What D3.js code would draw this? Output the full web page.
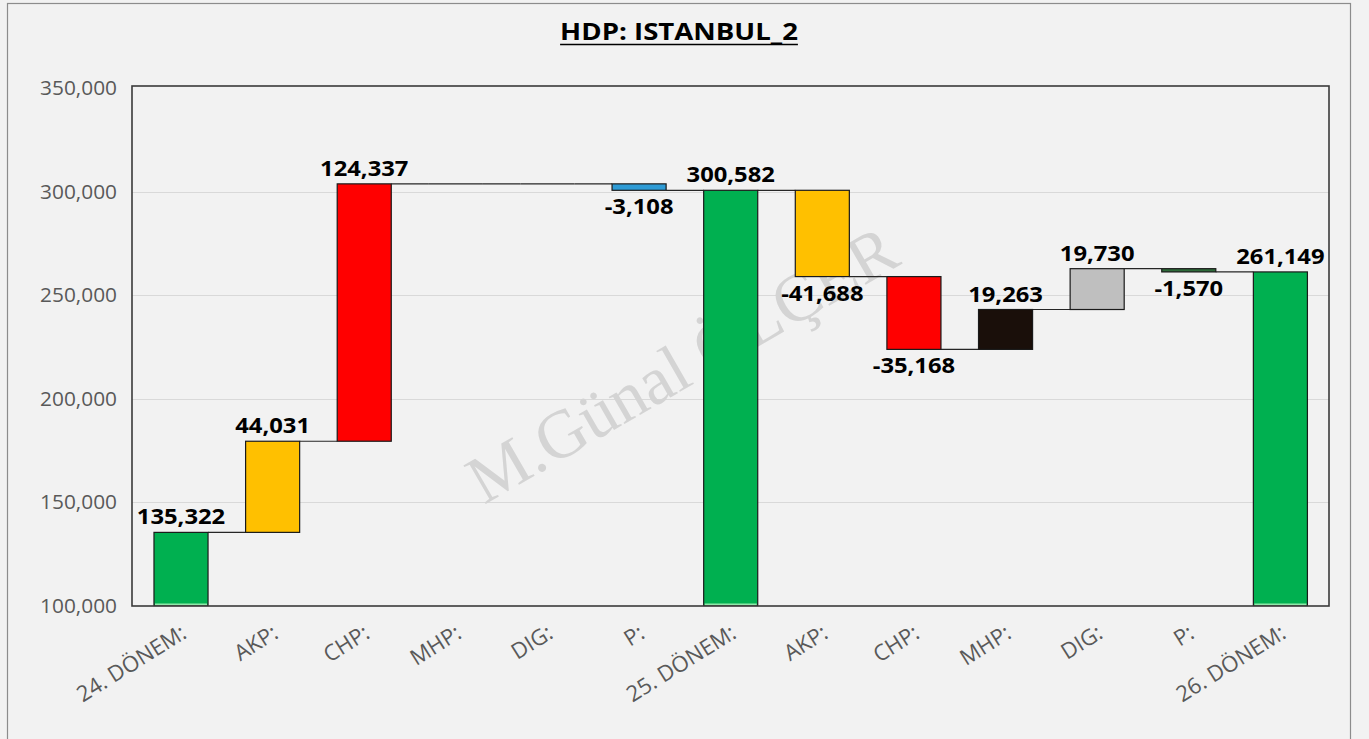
<!DOCTYPE html>
<html>
<head>
<meta charset="utf-8">
<script src="https://cdn.jsdelivr.net/npm/d3@7"></script>
<style>
  html, body { margin: 0; padding: 0; background: #f2f2f2; }
  svg { display: block; }
</style>
</head>
<body>
<svg id="chart" width="1369" height="739"></svg>
<script>
// ---- data ----
const categories = ["24. DÖNEM:", "AKP:", "CHP:", "MHP:", "DIG:", "P:", "25. DÖNEM:", "AKP:", "CHP:", "MHP:", "DIG:", "P:", "26. DÖNEM:"];
const values = [135322, 44031, 124337, 0, 0, -3108, 300582, -41688, -35168, 19263, 19730, -1570, 261149];
const kinds = ["total", "delta", "delta", "delta", "delta", "delta", "total", "delta", "delta", "delta", "delta", "delta", "total"];
const barColors = ["#00B050", "#FFC000", "#FF0000", "#7F7F7F", "#A5A5A5", "#2E9BD5", "#00B050", "#FFC000", "#FF0000", "#1A0F0A", "#BFBFBF", "#2F6B3A", "#00B050"];
const yTicks = [100000, 150000, 200000, 250000, 300000, 350000];
const title = "HDP: ISTANBUL_2";
const watermark = "M.Günal ÖLÇER";

// ---- layout ----
const svg = d3.select("#chart");
const plot = { left: 132, right: 1329, top: 86, bottom: 606 };
const fmt = v => d3.format(",")(v).replace("\u2212", "-");

const x = d3.scaleBand()
  .domain(d3.range(categories.length))
  .range([135.2, 1326.2])
  .paddingInner(0.41)
  .paddingOuter(0.205);
const y = d3.scaleLinear().domain([100000, 350000]).range([605.5, 88]);

// running totals
let run = 0;
const bars = values.map((v, i) => {
  let start, end;
  if (kinds[i] === "total") { start = y.domain()[0]; end = v; run = v; }
  else { start = run; end = run + v; run = end; }
  return { i, v, start, end, level: run, kind: kinds[i], color: barColors[i] };
});

// background & outer frame
svg.append("rect").attr("x", 0).attr("y", 0).attr("width", 1369).attr("height", 739).attr("fill", "#f2f2f2");
svg.append("rect").attr("x", 7.5).attr("y", 3.5).attr("width", 1343).attr("height", 760)
  .attr("fill", "none").attr("stroke", "#8c8c8c").attr("stroke-width", 1.2);

// gridlines
svg.append("g").selectAll("line").data(yTicks.slice(1, -1)).join("line")
  .attr("x1", plot.left).attr("x2", plot.right)
  .attr("y1", d => Math.round(y(d)) + 0.5).attr("y2", d => Math.round(y(d)) + 0.5)
  .attr("stroke", "#d9d9d9").attr("stroke-width", 1.2);

// watermark
svg.append("text")
  .attr("transform", "translate(484,505) rotate(-30)")
  .attr("text-anchor", "start")
  .attr("font-family", "'Liberation Serif', 'DejaVu Serif', serif")
  .attr("font-size", 68)
  .attr("fill", "#d4d4d4")
  .text(watermark);

// connectors
const bw = x.bandwidth();
svg.append("g").selectAll("line").data(bars.slice(0, -1)).join("line")
  .attr("x1", d => x(d.i) + bw).attr("x2", d => x(d.i + 1))
  .attr("y1", d => y(d.level)).attr("y2", d => y(d.level))
  .attr("stroke", "#262626").attr("stroke-width", 1.2);

// zero-height bars show as a line
svg.append("g").selectAll("line").data(bars.filter(d => d.v === 0)).join("line")
  .attr("x1", d => x(d.i)).attr("x2", d => x(d.i) + bw)
  .attr("y1", d => y(d.level)).attr("y2", d => y(d.level))
  .attr("stroke", "#262626").attr("stroke-width", 1.2);

// bars
svg.append("g").selectAll("rect").data(bars.filter(d => d.v !== 0)).join("rect")
  .attr("x", d => x(d.i))
  .attr("width", bw)
  .attr("y", d => y(Math.max(d.start, d.end)))
  .attr("height", d => Math.abs(y(d.start) - y(d.end)))
  .attr("fill", d => d.color)
  .attr("stroke", "#1a1a1a")
  .attr("stroke-width", 1.2);

// light highlight at bottom of total bars
svg.append("g").selectAll("line").data(bars.filter(d => d.kind === "total")).join("line")
  .attr("x1", d => x(d.i) + 1).attr("x2", d => x(d.i) + bw - 1)
  .attr("y1", 604.5).attr("y2", 604.5)
  .attr("stroke", "#8fe8a8").attr("stroke-width", 2);

// plot frame
svg.append("rect")
  .attr("x", plot.left).attr("y", plot.top)
  .attr("width", plot.right - plot.left).attr("height", plot.bottom - plot.top)
  .attr("fill", "none").attr("stroke", "#3a3a3a").attr("stroke-width", 1.6);

// stretched text helper
function sText(g, px, py, str, opts) {
  const t = g.append("text")
    .attr("transform", `translate(${px},${py}) scale(${opts.sx || 1},1)`)
    .attr("text-anchor", opts.anchor || "middle")
    .attr("font-family", opts.family || "'Open Sans', 'Noto Sans', sans-serif")
    .attr("font-size", opts.size)
    .attr("font-weight", opts.weight || "normal")
    .attr("fill", opts.fill || "#000")
    .text(str);
  return t;
}

// y axis labels
const yAxis = svg.append("g").attr("class", "y-axis");
yTicks.forEach(t => {
  sText(yAxis, 117, y(t) + 7, fmt(t), { anchor: "end", size: 19.5, fill: "#595959", sx: 1.07 });
});

// x axis labels
const xAxis = svg.append("g").attr("class", "x-axis");
categories.forEach((c, i) => {
  const cx = x(i) + bw / 2;
  xAxis.append("text")
    .attr("transform", `translate(${cx + 7},${637}) rotate(-32)`)
    .attr("text-anchor", "end")
    .attr("font-family", "'Open Sans', 'Noto Sans', sans-serif")
    .attr("font-size", 22)
    .attr("fill", "#595959")
    .text(c);
});

// data labels
const lab = svg.append("g").attr("class", "labels");
bars.forEach(d => {
  if (d.v === 0) return;
  const cx = x(d.i) + bw / 2;
  const txt = fmt(d.v);
  if (d.v > 0) {
    sText(lab, cx, y(Math.max(d.start, d.end)) - 8, txt, { size: 20.5, weight: "bold", sx: 1.16 });
  } else {
    sText(lab, cx, y(Math.min(d.start, d.end)) + 24, txt, { size: 20.5, weight: "bold", sx: 1.16 });
  }
});

// title
const tg = svg.append("g");
const tt = sText(tg, 679, 40, title, { size: 24, weight: "bold", sx: 1.15 });
const tw = tt.node().getBBox().width * 1.15;
tg.append("line")
  .attr("x1", 679 - tw / 2).attr("x2", 679 + tw / 2)
  .attr("y1", 44.5).attr("y2", 44.5)
  .attr("stroke", "#000").attr("stroke-width", 1.6);
</script>
</body>
</html>
